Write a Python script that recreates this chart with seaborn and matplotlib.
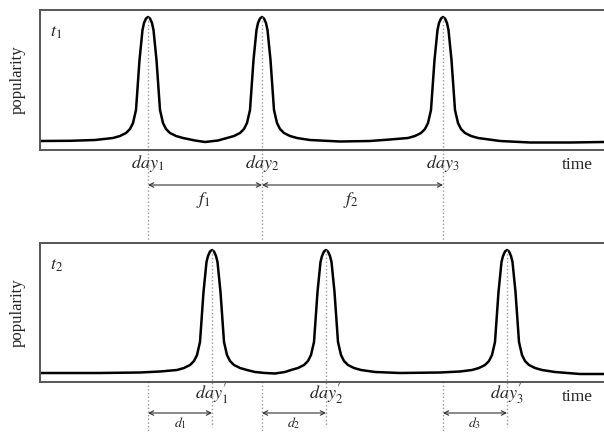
import matplotlib
matplotlib.use("Agg")
import matplotlib.pyplot as plt
import seaborn as sns

# DATA (time in arbitrary units along the axis, popularity in arbitrary units)
t1_time = [0, 30, 55, 73, 80, 86, 90, 93, 96, 99.5, 102.5, 104, 106, 108, 110, 112, 113.5,
           116.5, 120, 123, 126, 130, 136, 143, 155, 165, 178, 187, 194, 200, 204, 207,
           210, 213.5, 216.5, 218, 220, 222, 224, 226, 227.5, 230.5, 234, 237, 240, 244,
           250, 257, 270, 300, 330, 350, 368, 375, 381, 385, 388, 391, 394.5, 397.5, 399,
           401, 403, 405, 407, 408.5, 411.5, 415, 418, 421, 425, 431, 438, 460, 490, 530, 564]
t1_pop = [9, 9.2, 10, 12, 14, 17, 21, 27, 40, 90, 120, 127, 131.5, 133, 131.5, 127, 120,
          90, 40, 27, 21, 17, 14, 12, 9.5, 8, 9.5, 12, 14, 17, 21, 27,
          40, 90, 120, 127, 131.5, 133, 131.5, 127, 120, 90, 40, 27, 21, 17,
          14, 12, 10, 8.5, 9, 10.5, 12, 14, 17, 21, 27, 40, 90, 120, 127,
          131.5, 133, 131.5, 127, 120, 90, 40, 27, 21, 17, 14, 12, 9, 7.5, 7.5, 8]

t2_time = [0, 60, 100, 120, 137, 144, 150, 154, 157, 160, 163.5, 166.5, 168, 170, 172, 174,
           176, 177.5, 180.5, 184, 187, 190, 194, 200, 207, 215, 225, 235, 245, 251, 258,
           264, 268, 271, 274, 277.5, 280.5, 282, 284, 286, 288, 290, 291.5, 294.5, 298,
           301, 304, 308, 314, 321, 335, 360, 400, 420, 432, 439, 445, 449, 452, 455,
           458.5, 461.5, 463, 465, 467, 469, 471, 472.5, 475.5, 479, 482, 485, 489, 495,
           502, 515, 540, 564]
t2_pop = [9, 9, 9.5, 10.5, 12, 14, 17, 21, 27, 40, 90, 120, 126, 130.5, 132, 130.5,
          126, 120, 90, 40, 27, 21, 17, 14, 12, 10, 9, 8.5, 10, 12, 14,
          17, 21, 27, 40, 90, 120, 126, 130.5, 132, 130.5, 126, 120, 90, 40,
          27, 21, 17, 14, 12, 10, 9, 9.5, 10.5, 12, 14, 17, 21, 27, 40,
          90, 120, 126, 130.5, 132, 130.5, 126, 120, 90, 40, 27, 21, 17, 14,
          12, 10, 8, 8]

days = [108, 222, 403]
days_shifted = [172, 286, 467]
day_labels = [r"$day_1$", r"$day_2$", r"$day_3$"]
day_shift_labels = [r"$day_1^{\prime}$", r"$day_2^{\prime}$", r"$day_3^{\prime}$"]
f_labels = [r"$f_1$", r"$f_2$"]
d_labels = [r"$d_1$", r"$d_2$", r"$d_3$"]

sns.set_style("white")
plt.rcParams["font.family"] = ["Liberation Serif", "DejaVu Serif"]
plt.rcParams["mathtext.fontset"] = "stix"

W, H = 604, 432
fig = plt.figure(figsize=(W / 100, H / 100), dpi=100)
ax1 = fig.add_axes([40 / W, 1 - 150 / H, 1 - 40 / W, 140 / H])
ax2 = fig.add_axes([40 / W, 1 - 382 / H, 1 - 40 / W, 139 / H])

box_color = "#555555"
dot_color = "#999999"
arrow_color = "#333333"

for ax, tt, pp, lab, ymax in [(ax1, t1_time, t1_pop, r"$t_1$", 140),
                               (ax2, t2_time, t2_pop, r"$t_2$", 139)]:
    sns.lineplot(x=tt, y=pp, ax=ax, color="black", linewidth=1.8, sort=False)
    ax.set_xlim(0, 564)
    ax.set_ylim(0, ymax)
    ax.set_xticks([])
    ax.set_yticks([])
    ax.set_ylabel("popularity", fontsize=12, labelpad=10)
    for side in ["top", "left", "bottom"]:
        ax.spines[side].set_color(box_color)
        ax.spines[side].set_linewidth(1.4)
    ax.spines["right"].set_visible(False)
    ax.text(10, ymax - 22, lab, fontsize=13, ha="left", va="center")
    ax.text(537, -15, "time", fontsize=12.5, ha="center", va="center")

# top panel: day markers and inter-peak gaps
for d, lab in zip(days, day_labels):
    ax1.plot([d, d], [133, -285], linestyle=":", color=dot_color, linewidth=1.0, clip_on=False)
    ax1.text(d, -14, lab, fontsize=13, ha="center", va="center")

for a, b, lab in zip(days[:-1], days[1:], f_labels):
    ax1.annotate("", xy=(b, -35), xytext=(a, -35), annotation_clip=False,
                 arrowprops=dict(arrowstyle="<->", color=arrow_color, lw=0.8,
                                 shrinkA=0, shrinkB=0, mutation_scale=8))
    ax1.text((a + b) / 2 - 2, -50, lab, fontsize=13, ha="center", va="center")

# bottom panel: shifted days and delays
for d0, d, lab, dl in zip(days, days_shifted, day_shift_labels, d_labels):
    ax2.plot([d, d], [132, -45], linestyle=":", color=dot_color, linewidth=1.0, clip_on=False)
    ax2.text(d, -12, lab, fontsize=13, ha="center", va="center")
    ax2.annotate("", xy=(d, -31), xytext=(d0, -31), annotation_clip=False,
                 arrowprops=dict(arrowstyle="<->", color=arrow_color, lw=0.8,
                                 shrinkA=0, shrinkB=0, mutation_scale=8))
    ax2.text((d0 + d) / 2, -33, dl, fontsize=10, ha="center", va="top")

fig.savefig("out.png", dpi=100)
